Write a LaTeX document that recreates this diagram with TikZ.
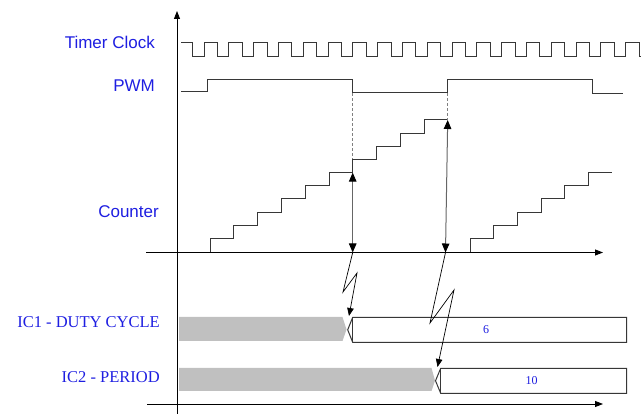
\documentclass[tikz,border=0pt]{standalone}
\usepackage{fontspec}
\setmainfont{Liberation Serif}
\setsansfont{Liberation Sans}
\usetikzlibrary{arrows.meta}
\definecolor{lblue}{RGB}{30,30,225}
\definecolor{wline}{RGB}{55,55,55}
\definecolor{gbox}{RGB}{192,192,192}
\tikzset{
  axis/.style={black, line width=0.9pt, -{Triangle[length=8pt,width=6pt]}},
  wave/.style={wline, line width=0.9pt},
  sig/.style={font=\sffamily\fontsize{17}{20}\selectfont, text=lblue, anchor=east, inner sep=0pt},
  reg/.style={font=\fontsize{16.5}{19}\selectfont, text=lblue, anchor=east, inner sep=0pt},
  val/.style={font=\fontsize{12}{14}\selectfont, text=lblue, inner sep=0pt},
  guide/.style={gray, line width=0.9pt, dash pattern=on 3pt off 2pt},
  meas/.style={gray!80!black, line width=1pt, {Triangle[length=9pt,width=7.5pt,color=black]}-{Triangle[length=9pt,width=7.5pt,color=black]}},
  bolt/.style={black, line width=0.7pt, -{Triangle[length=8pt,width=6.5pt]}},
  oldval/.style={fill=gbox, draw=none},
  newval/.style={fill=white, draw=wline, line width=1pt},
  edge/.style={wline, line width=1pt},
}
\begin{document}
\begin{tikzpicture}[x=1pt,y=-1pt]
\useasboundingbox (0,0) rectangle (641,414);
% labels
\node[sig] (tc) at (155,42) {Timer Clock};
\node[sig] (pwm) at (155,86) {PWM};
\node[sig] (cnt) at (159,212) {Counter};
\node[reg] (ic1) at (160,322) {IC1 - DUTY CYCLE};
\node[reg] (ic2) at (160,377) {IC2 - PERIOD};
% axes
\coordinate (vb) at (177,414);
\coordinate (vt) at (177,11);
\draw[axis] (vb) -- (vt);
\coordinate (ca0) at (146,252.5);
\coordinate (ca1) at (603,252.5);
\draw[axis] (ca0) -- (ca1);
\coordinate (ba0) at (147,404);
\coordinate (ba1) at (603,404);
\draw[axis] (ba0) -- (ba1);
% timer clock
\draw[wave] (181,42) foreach \k in {0,...,17} { -- ({192.7+\k*24.8},42) -- ({192.7+\k*24.8},56) -- ({204+\k*24.8},56) -- ({204+\k*24.8},42) } -- (639.1,42) -- (639.1,56) -- (641,56);
% PWM
\draw[wave] (181,91.5) -- (207,91.5) -- (207,79) -- (352.7,79) -- (352.7,92.5) -- (447.7,92.5) -- (447.7,79) -- (592,79) -- (592,93) -- (623,93);
% counter staircases
\draw[wave] (210,252.5) foreach \k in {0,...,9} { -- ({210+\k*23.8},{238.3-\k*13.15}) -- ({233.8+\k*23.8},{238.3-\k*13.15}) };
\draw[wave] (470,252.5) foreach \k in {0,...,5} { -- ({470+\k*23.7},{238.3-\k*13.15}) -- ({493.7+\k*23.7},{238.3-\k*13.15}) };
% guides
\coordinate (g1a) at (352.7,93.5);
\coordinate (g1b) at (352.7,159.5);
\coordinate (g2a) at (447.7,93.5);
\coordinate (g2b) at (447.7,120);
\draw[guide] (g1a) -- (g1b);
\draw[guide] (g2a) -- (g2b);
% capture measures
\coordinate (m1t) at (352.7,172.6);
\coordinate (m1b) at (352.7,252.5);
\coordinate (m2t) at (447.7,120);
\coordinate (m2b) at (445.5,252.5);
\draw[meas] (m1t) -- (m1b);
\draw[meas] (m2t) -- (m2b);
% register boxes
\path[oldval] (179,317) -- (342.5,317) -- (346.5,329.5) -- (342.5,341) -- (179,341) -- cycle;
\draw[newval] (352.7,317.3) -- (626.7,317.3) -- (626.7,342.3) -- (352.7,342.3) -- (347.7,329.8) -- cycle;
\draw[edge] (352.7,317.3) -- (352.7,342.3);
\path[oldval] (179,368) -- (431.5,368) -- (435,380.5) -- (431.5,391) -- (179,391) -- cycle;
\draw[newval] (440.7,368.3) -- (626.7,368.3) -- (626.7,393.3) -- (440.7,393.3) -- (435.5,380.8) -- cycle;
\draw[edge] (440.7,368.3) -- (440.7,393.3);
\node[val] (v6) at (486,329.5) {6};
\node[val] (v10) at (531.7,380.5) {10};
% lightning arrows
\coordinate (b1) at (349,316);
\coordinate (b2) at (437.5,367);
\draw[bolt] (m1b) -- (343,292) -- (357,273) -- (b1);
\draw[bolt] (m2b) -- (430,323) -- (454,290) -- (b2);
\end{tikzpicture}
\end{document}
